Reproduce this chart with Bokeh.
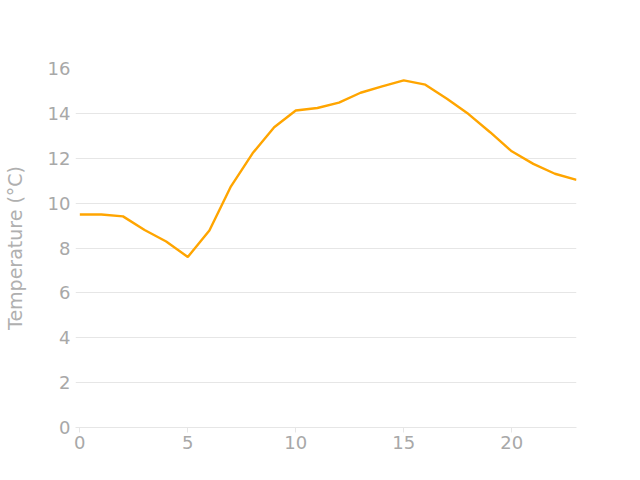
from bokeh.plotting import figure
from bokeh.models import Range1d, FixedTicker
from bokeh.embed import file_html
from bokeh.resources import INLINE

hours = list(range(24))
temps = [9.49, 9.49, 9.41, 8.8, 8.29, 7.6, 8.78, 10.75, 12.22, 13.38, 14.13, 14.24,
         14.48, 14.92, 15.2, 15.47, 15.28, 14.65, 13.97, 13.16, 12.31, 11.75, 11.31, 11.04]
y_ticks = [0, 2, 4, 6, 8, 10, 12, 14, 16]
x_ticks = [0, 5, 10, 15, 20]

GRAY = "#a8a8a8"
GRID = "#e6e6e6"

p = figure(width=630, height=470, output_backend="svg", toolbar_location=None,
           x_range=Range1d(-0.2, 23.0), y_range=Range1d(0, 16),
           min_border_left=75, min_border_right=54, min_border_top=68, min_border_bottom=43)
p.outline_line_color = None
p.line(hours, temps, line_color="#FFA500", line_width=2.4)

p.xgrid.grid_line_color = None
p.ygrid.grid_line_color = GRID
p.ygrid.ticker = FixedTicker(ticks=y_ticks)

p.yaxis.ticker = FixedTicker(ticks=y_ticks)
p.yaxis.axis_line_color = None
p.yaxis.major_tick_line_color = None
p.yaxis.major_tick_in = 0
p.yaxis.major_tick_out = 0
p.yaxis.minor_tick_line_color = None
p.yaxis.minor_tick_out = 0
p.yaxis.major_label_text_color = GRAY
p.yaxis.major_label_text_font = "DejaVu Sans"
p.yaxis.major_label_text_font_size = "18px"
p.yaxis.major_label_standoff = 5
p.yaxis.axis_label = "Temperature (°C)"
p.yaxis.axis_label_text_color = "#b0b0b0"
p.yaxis.axis_label_text_font = "DejaVu Sans"
p.yaxis.axis_label_text_font_style = "normal"
p.yaxis.axis_label_text_font_size = "19px"
p.yaxis.axis_label_standoff = 19

p.xaxis.ticker = FixedTicker(ticks=x_ticks)
p.xaxis.axis_line_color = GRID
p.xaxis.major_tick_line_color = GRID
p.xaxis.major_tick_in = 0
p.xaxis.major_tick_out = 5
p.xaxis.minor_tick_line_color = None
p.xaxis.major_label_text_color = GRAY
p.xaxis.major_label_text_font = "DejaVu Sans"
p.xaxis.major_label_text_font_size = "18px"
p.xaxis.major_label_standoff = 3

open("out.html", "w").write(file_html(p, INLINE))
